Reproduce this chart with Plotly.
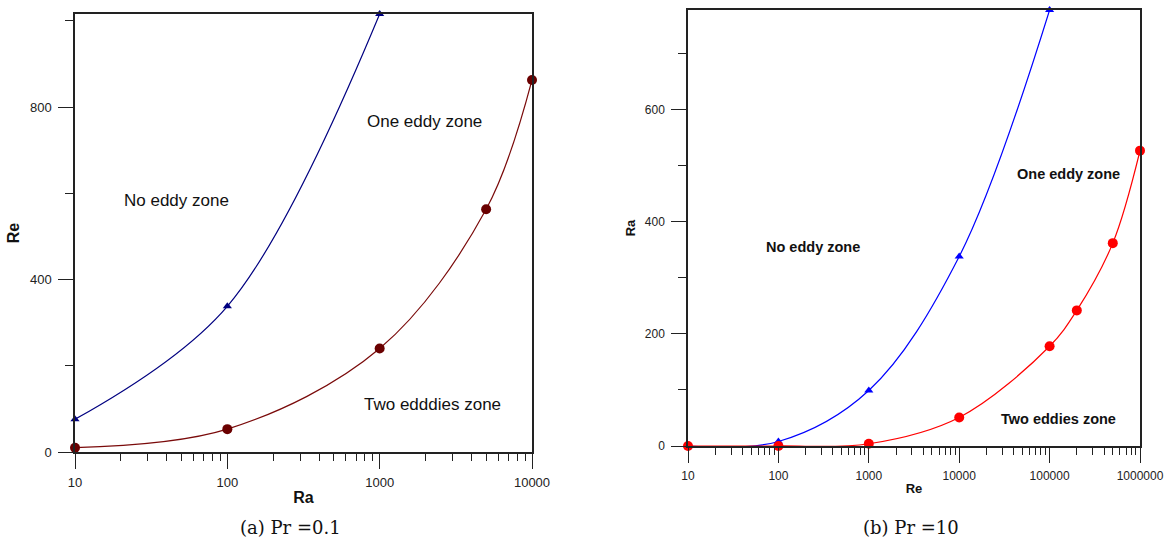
import plotly.graph_objects as go

# ---- data: (a) Pr = 0.1 ----
a_blue_ra = [10, 100, 1000]
a_blue_re = [76, 338, 1016]
a_red_ra = [10, 100, 1000, 5000, 10000]
a_red_re = [10, 53, 240, 563, 863]
a_xticks = [10, 100, 1000, 10000]
a_xticklabels = ["10", "100", "1000", "10000"]

# ---- data: (b) Pr = 10 ----
b_blue_re = [10, 100, 1000, 10000, 100000]
b_blue_ra = [0, 8, 99, 338, 778]
b_red_re = [10, 100, 1000, 10000, 100000, 200000, 500000, 1000000]
b_red_ra = [0, 0, 4, 51, 178, 242, 362, 527]
b_xticks = [10, 100, 1000, 10000, 100000, 1000000]
b_xticklabels = ["10", "100", "1000", "10000", "100000", "1000000"]

W, H = 1166, 547

fig = go.Figure()

fig.add_trace(go.Scatter(x=a_blue_ra, y=a_blue_re, mode="lines+markers",
                         line=dict(color="#000080", width=1.2, shape="spline", smoothing=1.0),
                         marker=dict(symbol="triangle-up", size=8, color="#000080"),
                         cliponaxis=False, xaxis="x", yaxis="y", showlegend=False))
fig.add_trace(go.Scatter(x=a_red_ra, y=a_red_re, mode="lines+markers",
                         line=dict(color="#7a0a0a", width=1.2, shape="spline", smoothing=1.0),
                         marker=dict(symbol="circle", size=10, color="#6a0000"),
                         cliponaxis=False, xaxis="x", yaxis="y", showlegend=False))
fig.add_trace(go.Scatter(x=b_blue_re, y=b_blue_ra, mode="lines+markers",
                         line=dict(color="#0000ff", width=1.2, shape="spline", smoothing=1.0),
                         marker=dict(symbol="triangle-up", size=8, color="#0000ff"),
                         cliponaxis=False, xaxis="x2", yaxis="y2", showlegend=False))
fig.add_trace(go.Scatter(x=b_red_re, y=b_red_ra, mode="lines+markers",
                         line=dict(color="#ff0000", width=1.2, shape="spline", smoothing=1.0),
                         marker=dict(symbol="circle", size=10, color="#ff0000"),
                         cliponaxis=False, xaxis="x2", yaxis="y2", showlegend=False))

axcol = "#222"

def xax(domain, rng, anchor, title, tsize, tfs, tv, tt):
    return dict(domain=domain, type="log", range=rng, anchor=anchor, automargin=False,
                showline=True, mirror=True, linecolor=axcol, linewidth=1.5,
                ticks="outside", ticklen=15, tickwidth=1.3, tickcolor=axcol,
                tickmode="array", tickvals=tv, ticktext=tt,
                showgrid=False, zeroline=False,
                tickfont=dict(family="Liberation Sans, Arial", size=tfs, color="#222"),
                ticklabelstandoff=3,
                minor=dict(ticks="outside", ticklen=7, tickwidth=1.2, tickcolor=axcol,
                           dtick="D1", showgrid=False),
                title=dict(text="<b>%s</b>" % title, standoff=2,
                           font=dict(family="Liberation Sans, Arial", size=tsize, color="#111")))

def yax(domain, rng, anchor, dt, title, tsize, tfs):
    return dict(domain=domain, range=rng, anchor=anchor, automargin=False,
                showline=True, mirror=True, linecolor=axcol, linewidth=1.5,
                ticks="outside", ticklen=15, tickwidth=1.3, tickcolor=axcol,
                dtick=dt, tick0=0, showgrid=False, zeroline=False,
                tickfont=dict(family="Liberation Sans, Arial", size=tfs, color="#222"),
                ticklabelstandoff=4,
                minor=dict(ticks="outside", ticklen=8, tickwidth=1.2, tickcolor=axcol,
                           dtick=dt / 2, showgrid=False),
                title=dict(text="<b>%s</b>" % title, standoff=6,
                           font=dict(family="Liberation Sans, Arial", size=tsize, color="#111")))

fig.update_layout(
    width=W, height=H, margin=dict(l=0, r=0, t=0, b=0),
    paper_bgcolor="white", plot_bgcolor="white",
    xaxis=xax([75 / W, 532 / W], [1, 4], "y", "Ra", 16, 13, a_xticks, a_xticklabels),
    yaxis=yax([1 - 452 / H, 1 - 14 / H], [0, 1016], "x", 400, "Re", 16, 13),
    xaxis2=xax([688 / W, 1140 / W], [1, 6], "y2", "Re", 13, 12, b_xticks, b_xticklabels),
    yaxis2=yax([1 - 446 / H, 1 - 10 / H], [0, 778], "x2", 200, "Ra", 13, 12),
)

ann_font = dict(family="Liberation Sans, Arial", size=17, color="#111")
ann_font_b = dict(family="Liberation Sans, Arial", size=14.5, color="#111")
anns = [
    dict(text="No eddy zone", x=176 / W, y=1 - 200 / H, font=ann_font),
    dict(text="One eddy zone", x=424 / W, y=1 - 122 / H, font=ann_font),
    dict(text="Two edddies zone", x=432 / W, y=1 - 404 / H, font=ann_font),
    dict(text="<b>No eddy zone</b>", x=813 / W, y=1 - 247 / H, font=ann_font_b),
    dict(text="<b>One eddy zone</b>", x=1068 / W, y=1 - 174 / H, font=ann_font_b),
    dict(text="<b>Two eddies zone</b>", x=1058 / W, y=1 - 419 / H, font=ann_font_b),
    dict(text="(a) Pr =0.1", x=290 / W, y=1 - 527 / H,
         font=dict(family="DejaVu Serif", size=18, color="#111")),
    dict(text="(b) Pr =10", x=911 / W, y=1 - 527 / H,
         font=dict(family="DejaVu Serif", size=18, color="#111")),
]
for a in anns:
    fig.add_annotation(xref="paper", yref="paper", showarrow=False,
                       xanchor="center", yanchor="middle", **a)

fig.write_html("out.html")
